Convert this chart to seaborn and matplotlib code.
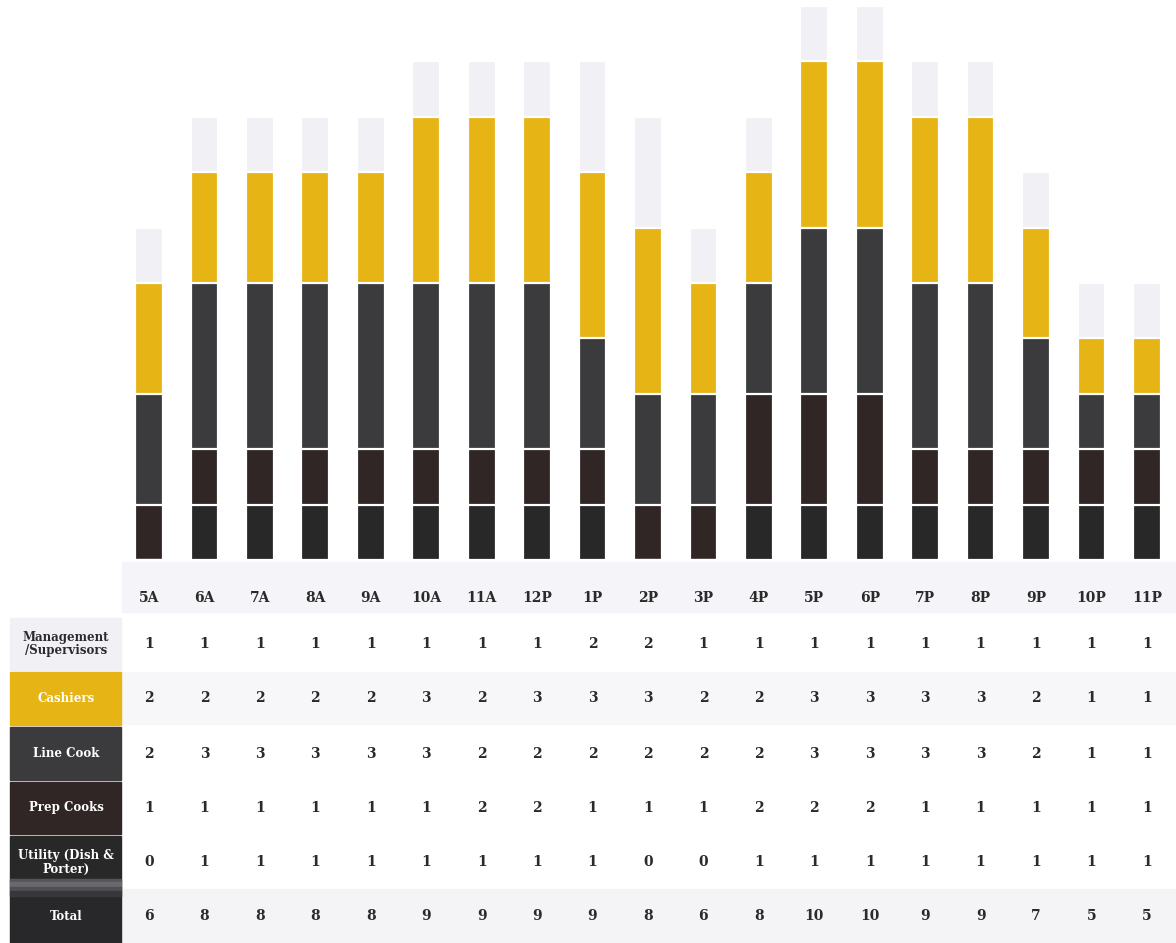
import matplotlib
matplotlib.use("Agg")
import matplotlib.pyplot as plt
import seaborn as sns
import pandas as pd
from matplotlib.patches import Rectangle
from matplotlib.transforms import blended_transform_factory

# ---------------- data ----------------
hours = ["5A", "6A", "7A", "8A", "9A", "10A", "11A", "12P", "1P", "2P",
         "3P", "4P", "5P", "6P", "7P", "8P", "9P", "10P", "11P"]

# segment heights as drawn in the bars (bottom -> top)
bar_utility = [0, 1, 1, 1, 1, 1, 1, 1, 1, 0, 0, 1, 1, 1, 1, 1, 1, 1, 1]
bar_prep    = [1, 1, 1, 1, 1, 1, 1, 1, 1, 1, 1, 2, 2, 2, 1, 1, 1, 1, 1]
bar_line    = [2, 3, 3, 3, 3, 3, 3, 3, 2, 2, 2, 2, 3, 3, 3, 3, 2, 1, 1]
bar_cash    = [2, 2, 2, 2, 2, 3, 3, 3, 3, 3, 2, 2, 3, 3, 3, 3, 2, 1, 1]
bar_mgmt    = [1, 1, 1, 1, 1, 1, 1, 1, 2, 2, 1, 1, 1, 1, 1, 1, 1, 1, 1]

# values printed in the table
row_labels = ["Management\n/Supervisors", "Cashiers", "Line Cook",
              "Prep Cooks", "Utility (Dish &\nPorter)", "Total"]
tbl_mgmt  = [1, 1, 1, 1, 1, 1, 1, 1, 2, 2, 1, 1, 1, 1, 1, 1, 1, 1, 1]
tbl_cash  = [2, 2, 2, 2, 2, 3, 2, 3, 3, 3, 2, 2, 3, 3, 3, 3, 2, 1, 1]
tbl_line  = [2, 3, 3, 3, 3, 3, 2, 2, 2, 2, 2, 2, 3, 3, 3, 3, 2, 1, 1]
tbl_prep  = [1, 1, 1, 1, 1, 1, 2, 2, 1, 1, 1, 2, 2, 2, 1, 1, 1, 1, 1]
tbl_util  = [0, 1, 1, 1, 1, 1, 1, 1, 1, 0, 0, 1, 1, 1, 1, 1, 1, 1, 1]
tbl_total = [6, 8, 8, 8, 8, 9, 9, 9, 9, 8, 6, 8, 10, 10, 9, 9, 7, 5, 5]

# ---------------- style ----------------
c_mgmt = "#f1f0f4"
c_cash = "#e7b416"
c_line = "#3b3a3c"
c_prep = "#2f2625"
c_util = "#292829"
c_total = "#28282a"

sns.set_style("white")
plt.rcParams["font.family"] = ["DejaVu Serif", "DejaVu Sans"]

W, H = 1176, 943
fig = plt.figure(figsize=(W / 100, H / 100), dpi=100)

def fx(px):
    return px / W

def fy(py):
    return 1 - py / H

# light background band behind hour labels and faint row bands
for (y0, y1, col) in [(562, 612, "#f5f4f8"), (672, 724, "#f7f6f9"),
                      (889, 943, "#f4f3f6")]:
    fig.patches.append(Rectangle((fx(122), fy(y1)), fx(W) - fx(122), fy(y0) - fy(y1),
                                 transform=fig.transFigure, color=col, zorder=-5))

# ---------------- bars ----------------
base_px, unit_px = 560, 55.4
ax = fig.add_axes([fx(120), fy(base_px), fx(W) - fx(120), fy(0) - fy(base_px)])
ax.set_facecolor("none")
ax.set_zorder(2)

df = pd.DataFrame({"hour": hours, "util": bar_utility, "prep": bar_prep,
                   "line": bar_line, "cash": bar_cash, "mgmt": bar_mgmt})
df["c1"] = df["util"]
df["c2"] = df["c1"] + df["prep"]
df["c3"] = df["c2"] + df["line"]
df["c4"] = df["c3"] + df["cash"]
df["c5"] = df["c4"] + df["mgmt"]

for col, color in [("c5", c_mgmt), ("c4", c_cash), ("c3", c_line),
                   ("c2", c_prep), ("c1", c_util)]:
    sns.barplot(data=df, x="hour", y=col, order=hours, color=color,
                saturation=1, width=0.5, edgecolor="white", linewidth=1.6,
                errorbar=None, ax=ax)

spacing = 55.44
ax.set_xlim((120 - 149) / spacing, (W - 149) / spacing)
ax.set_ylim(0, base_px / unit_px)
ax.set_xlabel("")
ax.set_ylabel("")
ax.set_yticks([])
ax.set_xticks(range(len(hours)))
ax.set_xticklabels(hours, fontsize=10, fontweight="bold", color="#2a2a2a")
ax.tick_params(axis="x", length=0, pad=22)
for s in ax.spines.values():
    s.set_visible(False)

# ---------------- table ----------------
row_tops = [618, 672, 727, 782, 836, 889]
row_bots = [670, 725, 780, 834, 889, 943]
cell_colors = [c_mgmt, c_cash, c_line, c_prep, c_util, c_total]
text_colors = ["#2b2a2e", "white", "white", "white", "white", "white"]
rows = [tbl_mgmt, tbl_cash, tbl_line, tbl_prep, tbl_util, tbl_total]

for r in range(len(rows)):
    t, b = row_tops[r], row_bots[r]
    fig.patches.append(Rectangle((fx(10), fy(b)), fx(121) - fx(10), fy(t) - fy(b),
                                 transform=fig.transFigure, color=cell_colors[r],
                                 zorder=-1))
    fig.text(fx(66), fy((t + b) / 2), row_labels[r], ha="center", va="center",
             fontsize=8.5, fontweight="bold", color=text_colors[r],
             linespacing=1.05, zorder=5)

# gradient strip between Utility and Total header cells
for (y0, y1, col) in [(879, 882, "#55555a"), (882, 887, "#6a6a6e"),
                      (887, 891, "#505054"), (891, 896, "#38383b")]:
    fig.patches.append(Rectangle((fx(10), fy(y1)), fx(121) - fx(10), fy(y0) - fy(y1),
                                 transform=fig.transFigure, color=col, zorder=0))

trans = blended_transform_factory(ax.transData, fig.transFigure)
for r, vals in enumerate(rows):
    yc = fy((row_tops[r] + row_bots[r]) / 2)
    for i, v in enumerate(vals):
        ax.text(i, yc, str(v), transform=trans, ha="center", va="center",
                fontsize=10, fontweight="bold", color="#2a2a2a", clip_on=False)

fig.savefig("out.png", dpi=100)
